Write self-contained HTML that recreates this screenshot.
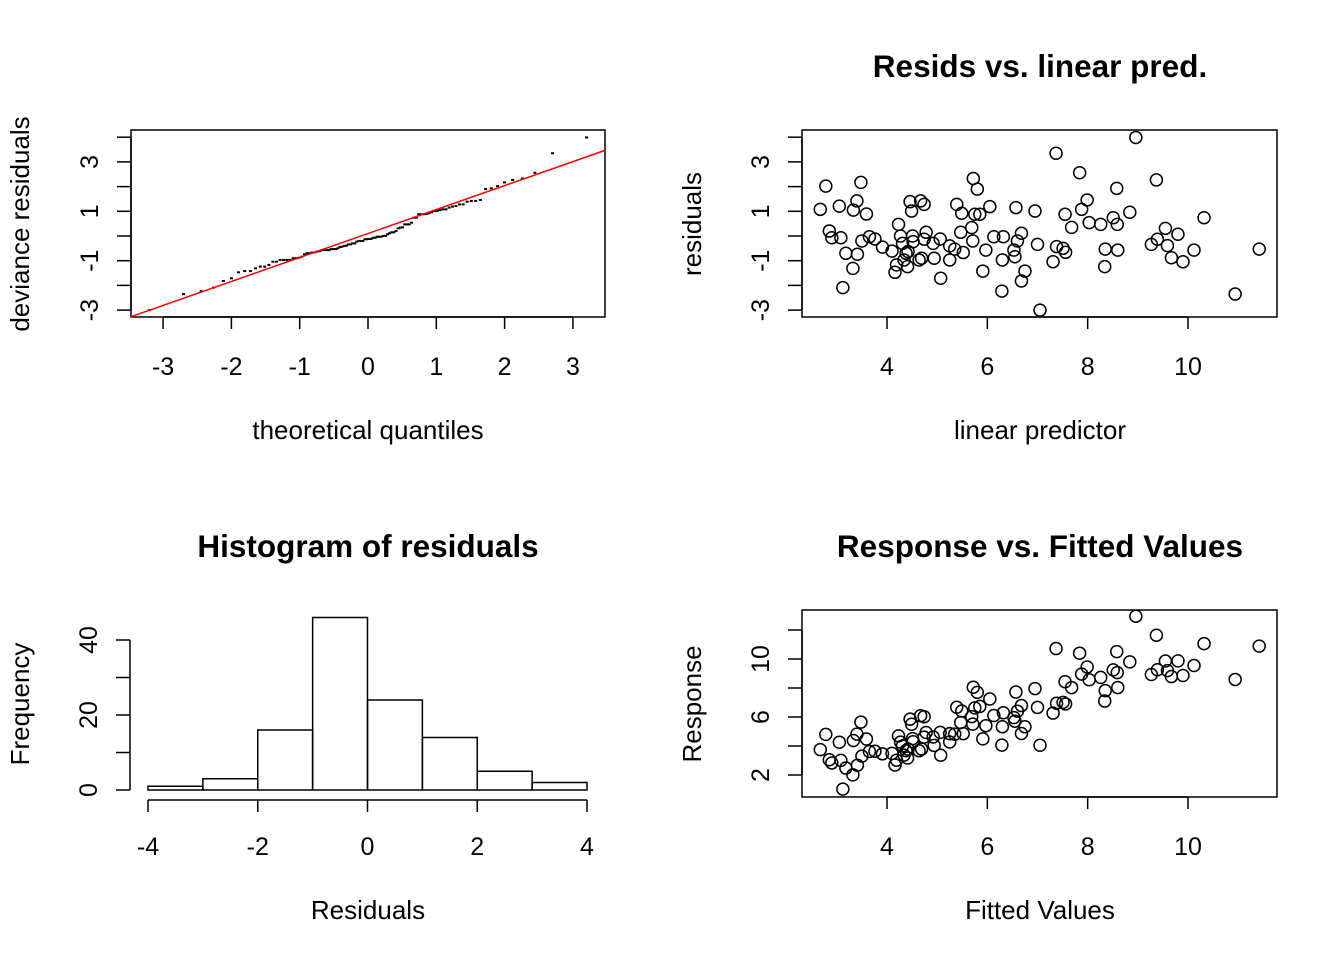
<!DOCTYPE html>
<html><head><meta charset="utf-8"><style>
html,body{margin:0;padding:0;background:#fff;}
svg{display:block;font-family:"Liberation Sans",Arial,sans-serif;}
</style></head><body>
<svg id="c" width="1344" height="960" viewBox="0 0 1344 960"></svg>
<script>
const linpred=[2.67,2.78,2.85,2.90,3.05,3.08,3.12,3.18,3.32,3.33,3.40,3.41,3.48,3.50,3.59,3.65,3.76,3.91,4.10,4.16,4.19,4.23,4.27,4.31,4.34,4.38,4.41,4.42,4.46,4.49,4.51,4.52,4.64,4.67,4.69,4.74,4.78,4.74,4.92,4.94,5.06,5.07,5.25,5.25,5.35,5.39,5.47,5.49,5.52,5.69,5.71,5.72,5.75,5.80,5.85,5.91,5.97,6.05,6.13,6.29,6.30,6.32,6.55,6.53,6.57,6.60,6.68,6.68,6.75,6.95,7.00,7.05,7.31,7.37,7.38,7.51,7.55,7.56,7.68,7.84,7.88,7.99,8.03,8.26,8.34,8.35,8.51,8.58,8.59,8.60,8.84,8.96,9.27,9.37,9.39,9.55,9.59,9.67,9.80,9.90,10.12,10.32,10.94,11.42];
const resid=[1.08,2.02,0.20,-0.07,1.21,-0.07,-2.09,-0.70,-1.31,1.05,1.42,-0.74,2.17,-0.20,0.89,-0.03,-0.12,-0.45,-0.61,-1.47,-1.17,0.47,0.00,-0.30,-0.97,-0.70,-1.24,-0.63,1.39,1.01,0.00,-0.23,-0.97,1.42,-0.90,1.28,0.15,-0.13,-0.30,-0.90,-0.12,-1.71,-0.97,-0.40,-0.53,1.28,0.15,0.92,-0.67,0.34,-0.20,2.33,0.88,1.90,0.88,-1.42,-0.57,1.19,-0.03,-2.23,-0.97,-0.03,-0.84,-0.57,1.15,-0.20,0.11,-1.82,-1.42,1.01,-0.34,-3.00,-1.04,3.35,-0.43,-0.50,0.88,-0.66,0.35,2.56,1.08,1.46,0.54,0.47,-1.24,-0.53,0.74,1.93,0.47,-0.57,0.96,3.99,-0.34,2.27,-0.13,0.31,-0.39,-0.88,0.07,-1.04,-0.57,0.74,-2.35,-0.53];
const histBreaks=[-4,-3,-2,-1,0,1,2,3,4];
const histCounts=[1,3,16,46,24,14,5,2];
const qqRefLine=[0.1,0.97]; // intercept, slope
const ticksQQx=[-3,-2,-1,0,1,2,3];
const ticksResY=[-3,-2,-1,0,1,2,3,4];
const labelsResY=[-3,-1,1,3];
const ticksLpX=[4,6,8,10];
const ticksHistX=[-4,-2,0,2,4];
const ticksHistY=[0,10,20,30,40];
const labelsHistY=[0,20,40];
const ticksRespY=[2,4,6,8,10,12];
const labelsRespY=[2,6,10];

const svg=document.getElementById('c');
const NS='http://www.w3.org/2000/svg';
const TICK=25, AXT=26, TITLE=31.5;
function mk(tag,attrs,parent){const e=document.createElementNS(NS,tag);for(const k in attrs)e.setAttribute(k,attrs[k]);(parent||svg).appendChild(e);return e;}
function lin(d0,d1,p0,p1){return v=>p0+(v-d0)*(p1-p0)/(d1-d0);}

const qx=lin(0,1,368,368+68.3), ry=lin(0,1,236,236-24.7);
const lx=lin(4,10,887,1188);
const hx=lin(-4,4,148,587), hy=lin(0,40,790,640);
const fy=lin(2,10,775,659);

function qnorm(p){const a=[-39.696830,220.946098,-275.928510,138.357751,-30.664798,2.506628],b=[-54.476098,161.585836,-155.698979,66.801311,-13.280681],c=[-0.007784894,-0.32239645,-2.4007583,-2.5497325,4.3746641,2.938164],d=[0.00778469,0.32246712,2.445134,3.7544087];let q,r;if(p<0.02425){q=Math.sqrt(-2*Math.log(p));return(((((c[0]*q+c[1])*q+c[2])*q+c[3])*q+c[4])*q+c[5])/((((d[0]*q+d[1])*q+d[2])*q+d[3])*q+1);}if(p>1-0.02425){return -qnorm(1-p);}q=p-0.5;r=q*q;return(((((a[0]*r+a[1])*r+a[2])*r+a[3])*r+a[4])*r+a[5])*q/(((((b[0]*r+b[1])*r+b[2])*r+b[3])*r+b[4])*r+1);}

function box(x0,y0,x1,y1,name){const r=mk('rect',{x:x0,y:y0,width:x1-x0,height:y1-y0,fill:'none',stroke:'#000','stroke-width':1.5});}
function xaxis(ticks,sc,y,labY,name){const g=mk('g',{});mk('line',{x1:sc(ticks[0]),x2:sc(ticks[ticks.length-1]),y1:y,y2:y+0,stroke:'#000','stroke-width':1.5},g);ticks.forEach(t=>{mk('line',{x1:sc(t),x2:sc(t),y1:y,y2:y+12,stroke:'#000','stroke-width':1.5},g);const l=mk('text',{x:sc(t),y:labY,'font-size':TICK,'text-anchor':'middle'},g);l.textContent=String(t);});}
function yaxis(ticks,labels,sc,x,name){const g=mk('g',{});mk('line',{x1:x,x2:x,y1:sc(ticks[0]),y2:sc(ticks[ticks.length-1]),stroke:'#000','stroke-width':1.5},g);ticks.forEach(t=>{mk('line',{x1:x-14,x2:x,y1:sc(t),y2:sc(t),stroke:'#000','stroke-width':1.5},g);});labels.forEach(t=>{const l=mk('text',{x:0,y:0,'font-size':TICK,'text-anchor':'middle',transform:`translate(${x-33},${sc(t)}) rotate(-90)`},g);l.textContent=String(t);});}
function ylab(x,y,s,name){const t=mk('text',{x:0,y:0,'font-size':AXT,'text-anchor':'middle',transform:`translate(${x},${y}) rotate(-90)`});t.textContent=s;}
function label(x,y,s,size,name,bold){const t=mk('text',Object.assign({x:x,y:y,'font-size':size,'text-anchor':'middle'},bold?{'font-weight':'bold'}:{}));t.textContent=s;}

// Panel 1: QQ
box(131,130,605,317,'qq-plot-box');
const n=resid.length;const sorted=resid.slice().sort((a,b)=>a-b);const qmax=qnorm((n-0.5)/n);
const qg=mk('g',{});
sorted.forEach((v,i)=>{const tq=qnorm((i+0.5)/n)*3.2/qmax;const p=mk('rect',{x:qx(tq)-1.5,y:ry(v)-1,width:3,height:2,fill:'#000'},qg);});
function qRef(t){return qqRefLine[0]+qqRefLine[1]*t;}
const rl=mk('line',{x1:qx(-3.47),y1:ry(qRef(-3.47)),x2:qx(3.47),y2:ry(qRef(3.47)),stroke:'#ff0000','stroke-width':1.5});


xaxis(ticksQQx,qx,317,375,'qq-x-axis');
yaxis(ticksResY,labelsResY,ry,131,'qq-y-axis');
label(368,439,'theoretical quantiles',AXT,'qq-x-axis-title');
ylab(29,224,'deviance residuals','qq-y-axis-title');

// Panel 2
label(1040,77,'Resids vs. linear pred.',TITLE,'resid-plot-title',true);
box(802,130,1277,317,'resid-plot-box');
const g2=mk('g',{});
linpred.forEach((v,i)=>{const c=mk('circle',{cx:lx(v),cy:ry(resid[i]),r:6,fill:'none',stroke:'#000','stroke-width':1.5},g2);});
xaxis(ticksLpX,lx,317,375,'resid-x-axis');
yaxis(ticksResY,labelsResY,ry,802,'resid-y-axis');
label(1040,439,'linear predictor',AXT,'resid-x-axis-title');
ylab(701,224,'residuals','resid-y-axis-title');

// Panel 3
label(368,557,'Histogram of residuals',TITLE,'histogram-title',true);
const g3=mk('g',{});
histCounts.forEach((c,i)=>{const r=mk('rect',{x:hx(histBreaks[i]),y:hy(c),width:hx(histBreaks[i+1])-hx(histBreaks[i]),height:hy(0)-hy(c),fill:'none',stroke:'#000','stroke-width':1.5},g3);});
xaxis(ticksHistX,hx,800,855,'histogram-x-axis');
yaxis(ticksHistY,labelsHistY,hy,130,'histogram-y-axis');
label(368,919,'Residuals',AXT,'histogram-x-axis-title');
ylab(29,704,'Frequency','histogram-y-axis-title');

// Panel 4
label(1040,557,'Response vs. Fitted Values',TITLE,'response-plot-title',true);
box(802,610,1277,797,'response-plot-box');
const g4=mk('g',{});
linpred.forEach((v,i)=>{const c=mk('circle',{cx:lx(v),cy:fy(v+resid[i]),r:6,fill:'none',stroke:'#000','stroke-width':1.5},g4);});
xaxis(ticksLpX,lx,797,855,'response-x-axis');
yaxis(ticksRespY,labelsRespY,fy,802,'response-y-axis');
label(1040,919,'Fitted Values',AXT,'response-x-axis-title');
ylab(701,704,'Response','response-y-axis-title');
</script>
</body></html>
